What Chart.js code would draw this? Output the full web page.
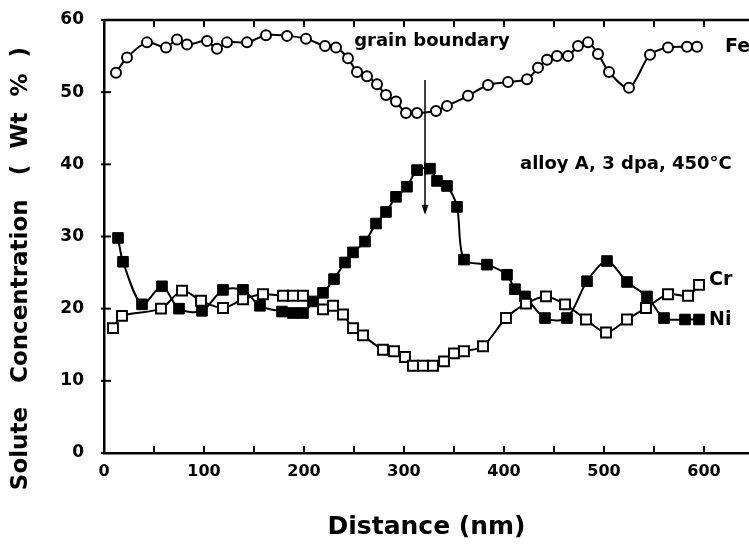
<!DOCTYPE html>
<html><head><meta charset="utf-8">
<script src="https://cdn.jsdelivr.net/npm/chart.js@4/dist/chart.umd.min.js"></script>
<style>html,body{margin:0;padding:0;background:#fff}canvas{display:block}</style>
</head><body>
<canvas id="c" width="749" height="546"></canvas>
<script>
// ---- data ----
const feX = [12,23,43,62,73,83,103,113,123,143,162,183,202,221,232,244,253,263,273,282,292,302,313,332,343,364,384,404,423,434,443,453,464,474,484,494,505,525,546,564,583,593];
const feY = [52.7,54.8,56.9,56.2,57.3,56.6,57.1,56.0,56.9,56.9,57.9,57.8,57.4,56.4,56.2,54.7,52.8,52.2,51.1,49.6,48.7,47.1,47.1,47.4,48.1,49.5,51.0,51.4,51.8,53.4,54.5,55.0,55.0,56.4,56.9,55.3,52.8,50.6,55.2,56.2,56.3,56.3];
const niX = [14,19,38,58,75,98,119,139,156,178,189,199,209,219,230,241,249,261,272,282,292,303,313,326,333,343,353,360,383,403,411,421,441,463,483,503,523,543,560,581,595];
const niY = [29.8,26.5,20.6,23.1,20.0,19.7,22.6,22.6,20.4,19.6,19.4,19.4,21.0,22.2,24.1,26.4,27.8,29.3,31.8,33.4,35.5,36.9,39.2,39.4,37.7,37.0,34.1,26.8,26.1,24.7,22.7,21.7,18.7,18.7,23.8,26.6,23.7,21.7,18.7,18.5,18.5];
const crX = [9,18,57,78,97,119,139,159,179,189,199,219,229,239,249,259,279,290,301,309,319,329,340,350,360,379,402,422,442,461,482,502,523,542,564,584,595];
const crY = [17.3,19.0,20.0,22.5,21.1,20.1,21.3,22.0,21.8,21.8,21.8,19.9,20.4,19.2,17.3,16.3,14.3,14.1,13.3,12.1,12.1,12.1,12.7,13.8,14.1,14.8,18.7,20.7,21.7,20.6,18.5,16.7,18.5,20.1,22.0,21.8,23.3];
const xTickLabels = [0,100,200,300,400,500,600];
const yTicks = [0,10,20,30,40,50,60];
const seriesNames = ['Fe','Cr','Ni'];
const boundaryX = 321;

const pts = (xs, ys) => xs.map((x, i) => ({x, y: ys[i]}));
const FONT = "'DejaVu Sans', sans-serif";

const annot = {
  id: 'annot',
  afterDraw(chart) {
    const {ctx, chartArea: a, scales: {x, y}} = chart;
    ctx.save();
    ctx.strokeStyle = '#000'; ctx.fillStyle = '#000';
    // top frame line
    ctx.lineWidth = 2.5;
    ctx.beginPath(); ctx.moveTo(a.left, a.top); ctx.lineTo(a.right, a.top); ctx.stroke();
    // inward tick marks
    ctx.lineWidth = 2;
    for (let v = 0; v <= 600; v += 50) {
      const px = x.getPixelForValue(v);
      ctx.beginPath(); ctx.moveTo(px, a.bottom); ctx.lineTo(px, a.bottom - 7); ctx.stroke();
      ctx.beginPath(); ctx.moveTo(px, a.top); ctx.lineTo(px, a.top + 7); ctx.stroke();
    }
    yTicks.forEach(v => {
      const py = y.getPixelForValue(v);
      ctx.beginPath(); ctx.moveTo(a.left - 3, py); ctx.lineTo(a.left + 7, py); ctx.stroke();
    });
    // grain boundary arrow
    const ax = x.getPixelForValue(boundaryX);
    const y0 = y.getPixelForValue(51.7), y1 = y.getPixelForValue(33.0);
    ctx.lineWidth = 1.5;
    ctx.beginPath(); ctx.moveTo(ax, y0); ctx.lineTo(ax, y1 - 6); ctx.stroke();
    ctx.beginPath(); ctx.moveTo(ax - 3.5, y1 - 10); ctx.lineTo(ax + 3.5, y1 - 10); ctx.lineTo(ax, y1); ctx.closePath(); ctx.fill();
    // texts
    ctx.textBaseline = 'middle';
    ctx.font = "bold 18px " + FONT;
    ctx.textAlign = 'center';
    ctx.fillText('grain boundary', x.getPixelForValue(328), y.getPixelForValue(57.0));
    ctx.textAlign = 'left';
    ctx.font = "bold 18px " + FONT;
    ctx.fillText('alloy A, 3 dpa, 450°C', x.getPixelForValue(416), y.getPixelForValue(40.0));
    ctx.font = "bold 19px " + FONT;
    ctx.fillText(seriesNames[0], x.getPixelForValue(621), y.getPixelForValue(56.3));
    ctx.fillText(seriesNames[1], x.getPixelForValue(605), y.getPixelForValue(24.0));
    ctx.fillText(seriesNames[2], x.getPixelForValue(605), y.getPixelForValue(18.4));
    ctx.restore();
  }
};

new Chart(document.getElementById('c'), {
  type: 'line',
  data: {
    datasets: [
      {label: seriesNames[0], data: pts(feX, feY), borderColor: '#000', borderWidth: 2, tension: 0.3,
       pointStyle: 'circle', pointRadius: 5, pointBorderWidth: 2, pointBackgroundColor: '#fff', pointBorderColor: '#000'},
      {label: seriesNames[1], data: pts(crX, crY), borderColor: '#000', borderWidth: 2, tension: 0.3,
       pointStyle: 'rect', pointRadius: 7, pointBorderWidth: 2, pointBackgroundColor: '#fff', pointBorderColor: '#000'},
      {label: seriesNames[2], data: pts(niX, niY), borderColor: '#000', borderWidth: 2, tension: 0.3,
       pointStyle: 'rect', pointRadius: 7.5, pointBorderWidth: 1, pointBackgroundColor: '#000', pointBorderColor: '#000'}
    ]
  },
  options: {
    responsive: false, animation: false,
    layout: {autoPadding: false, padding: {top: 20, right: 0, left: 0, bottom: 0}},
    plugins: {legend: {display: false}, tooltip: {enabled: false}},
    scales: {
      x: {
        type: 'linear', min: 0, max: 645,
        afterFit(s) { s.height = 93; s.paddingLeft = 0; s.paddingRight = 0; },
        grid: {display: false, drawTicks: false},
        border: {display: true, color: '#000', width: 2.5},
        ticks: {stepSize: 50, includeBounds: false, autoSkip: false, maxRotation: 0, padding: 9, color: '#000',
                font: {family: FONT, size: 16, weight: 'bold'},
                callback: v => xTickLabels.includes(v) ? String(v) : ''},
        title: {display: true, text: 'Distance (nm)', color: '#000', font: {family: FONT, size: 25, weight: 'bold'}, padding: {top: 0, bottom: 4}}
      },
      y: {
        type: 'linear', min: 0, max: 60,
        afterFit(s) { s.width = 104; s.paddingTop = 0; s.paddingBottom = 0; },
        grid: {display: false, drawTicks: false},
        border: {display: true, color: '#000', width: 2.5},
        ticks: {stepSize: 10, padding: 20, color: '#000', font: {family: FONT, size: 17, weight: 'bold'}},
        title: {display: true, text: 'Solute   Concentration   (  Wt  %  )        ', color: '#000', font: {family: FONT, size: 23, weight: 'bold'}, padding: {top: 7, bottom: 0}}
      }
    }
  },
  plugins: [annot]
});
</script>
</body></html>
